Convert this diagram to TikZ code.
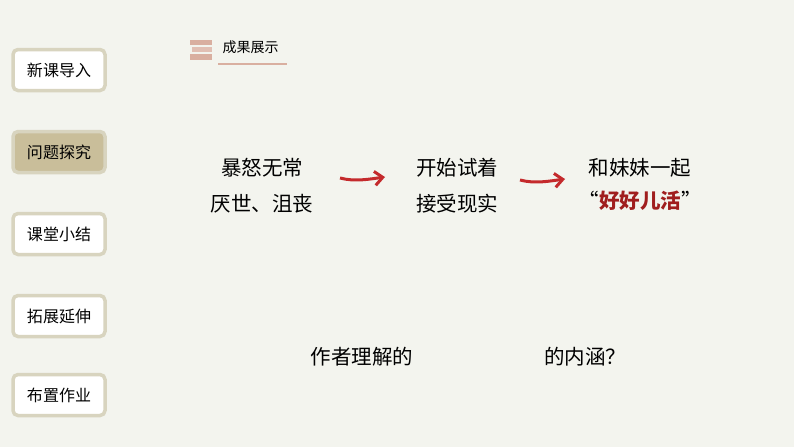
\documentclass[tikz,border=0pt]{standalone}
\usepackage{fontspec}
\usetikzlibrary{arrows.meta}
\setmainfont{Noto Sans CJK SC}
\definecolor{bg}{HTML}{F3F4EE}
\definecolor{btnb}{HTML}{D8D4BF}
\definecolor{btna}{HTML}{C9BE9A}
\definecolor{arr}{HTML}{C42A2C}
\definecolor{deco}{HTML}{D9AFA0}
\definecolor{txtred}{HTML}{A01E1E}
\begin{document}
\begin{tikzpicture}[x=1pt,y=-1pt,
  btn/.style={draw=btnb,line width=3.5pt,fill=white,rounded corners=5pt,minimum width=92pt,minimum height=41pt,font=\fontsize{16}{16}\selectfont},
  body/.style={font=\fontsize{20.5}{20.5}\selectfont,anchor=center},
  arrowc/.style={arr,line width=3pt,-{Straight Barb[length=8pt,width=14pt]}}]
\fill[bg] (0,0) rectangle (794,447);
\useasboundingbox (0,0) rectangle (794,447);
\node[btn] (b1) at (59,70) {新课导入};
\node[btn,fill=btna] (b2) at (59,152) {问题探究};
\node[btn] (b3) at (59,234) {课堂小结};
\node[btn] (b4) at (59,316) {拓展延伸};
\node[btn] (b5) at (59,395) {布置作业};
% header
\fill[deco] (190,40) rectangle (212,45);
\fill[deco!80] (192,47) rectangle (212,52);
\fill[deco] (190,54) rectangle (212,60);
\node[font=\fontsize{14}{14}\selectfont,anchor=west] (hd) at (219,47) {成果展示};
\draw[deco,line width=1.2pt] (218,64) -- (287,64);
\node[body] (t1) at (262,168) {暴怒无常};
\node[body] (t2) at (262,204) {厌世、沮丧};
\node[body] (t3) at (457,168) {开始试着};
\node[body] (t4) at (457,204) {接受现实};
\node[body] (t5) at (640,168) {和妹妹一起};
\node[body] (t6) at (640,201) {“\textcolor{txtred}{\textbf{好好儿活}}”};
\coordinate (a1s) at (340,178); \coordinate (a1e) at (385,177);
\coordinate (a2s) at (520,180); \coordinate (a2e) at (565,179);
\draw[arrowc] (a1s) .. controls (355,182) and (370,179) .. (a1e);
\draw[arrowc] (a2s) .. controls (535,184) and (550,181) .. (a2e);
\node[body] (q1) at (362,357) {作者理解的};
\node[body] (q2) at (585,357) {的内涵？};
\end{tikzpicture}
\end{document}
